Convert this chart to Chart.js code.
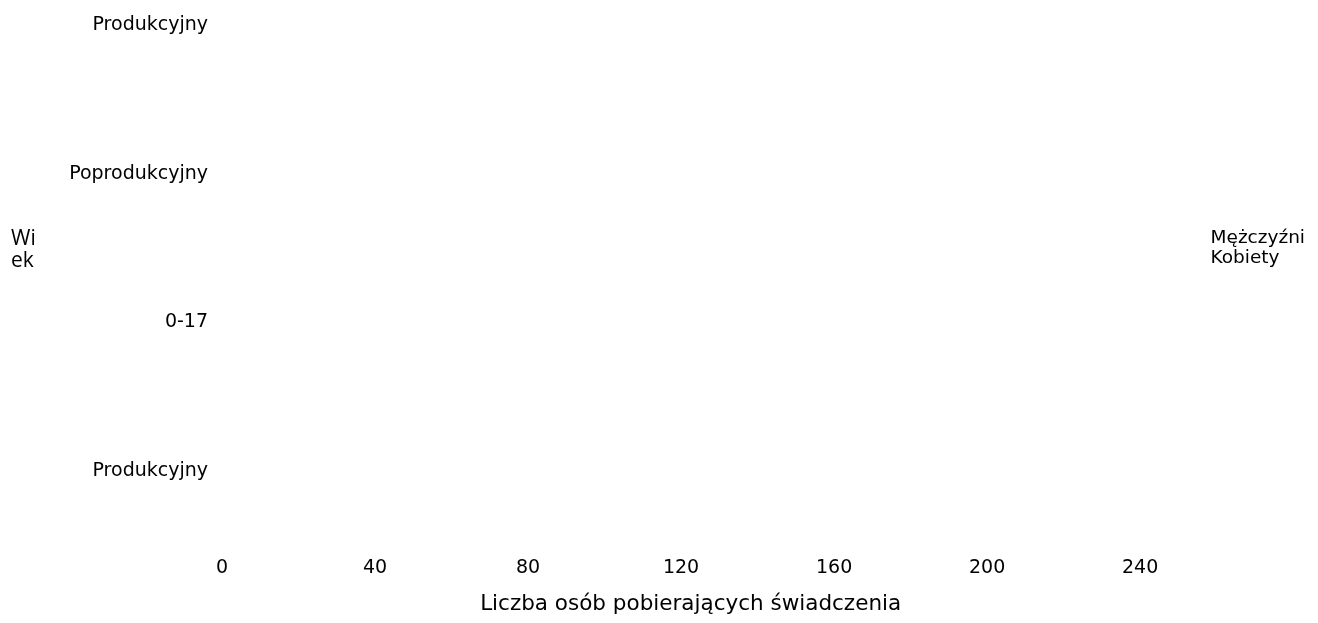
<!DOCTYPE html>
<html lang="pl">
<head>
<meta charset="utf-8">
<script src="https://cdn.jsdelivr.net/npm/chart.js@4.4.1/dist/chart.umd.min.js"></script>
<style>
  html, body { margin: 0; padding: 0; background: #fff; }
  #wrap { width: 1318px; height: 623px; }
</style>
</head>
<body>
<div id="wrap"><canvas id="wykres" width="1318" height="623"></canvas></div>
<script>
// DANE WYKRESU
const kategorieWieku = ["Produkcyjny", "Poprodukcyjny", "0-17", "Produkcyjny"];
const mezczyzni = [0, 0, 0, 0];
const kobiety = [0, 0, 0, 0];
const etykietySerii = ["Mężczyźni", "Kobiety"];
const maxOsiX = 245;
const krokOsiX = 40;
const tytulOsiX = "Liczba osób pobierających świadczenia";
const tytulOsiY = ["Wi", "ek"];

const czarny = "#000";
const fontOsi = { family: "'DejaVu Sans'", size: 19 };

// TYTUL OSI Y (POZIOMY, ZLAMANY W DWIE LINIE)
const pluginTytulY = {
  id: "pluginTytulY",
  afterDraw(chart) {
    const { ctx, chartArea } = chart;
    const srodek = (chartArea.top + chartArea.bottom) / 2 + 2;
    const wysLinii = 22;
    ctx.save();
    ctx.font = "21px 'Open Sans'";
    ctx.fillStyle = czarny;
    ctx.textAlign = "left";
    ctx.textBaseline = "middle";
    tytulOsiY.forEach((linia, i) => {
      ctx.fillText(linia, 11, srodek + (i - (tytulOsiY.length - 1) / 2) * wysLinii);
    });
    ctx.restore();
  }
};

const datasets = [
  {
    label: etykietySerii[0],
    data: mezczyzni,
    backgroundColor: "rgba(0,0,0,0)",
    borderWidth: 0
  },
  {
    label: etykietySerii[1],
    data: kobiety,
    backgroundColor: "rgba(0,0,0,0)",
    borderWidth: 0
  }
];

const config = {
  type: "bar",
  data: { labels: kategorieWieku, datasets },
  options: {
    responsive: false,
    animation: false,
    indexAxis: "y",
    layout: { padding: { top: 22, right: 3, bottom: 4, left: 0 } },
    plugins: {
      tooltip: { enabled: false },
      legend: {
        position: "right",
        fullSize: false,
        labels: {
          font: { family: "'DejaVu Sans'", size: 18.5 },
          color: czarny,
          boxWidth: 40,
          padding: 2
        }
      }
    },
    scales: {
      x: {
        min: 0,
        max: maxOsiX,
        grid: { display: false, drawTicks: false },
        border: { display: false },
        ticks: { stepSize: krokOsiX, includeBounds: false, padding: 86, font: fontOsi, color: czarny },
        afterFit(skala) {
          skala.height = 148;
        },
        title: {
          display: true,
          text: tytulOsiX,
          color: czarny,
          font: { family: "'DejaVu Sans'", size: 21.5 },
          padding: { top: 14, bottom: 2 }
        }
      },
      y: {
        offset: false,
        grid: { display: false, drawTicks: false },
        border: { display: false },
        ticks: { autoSkip: false, padding: 14, font: fontOsi, color: czarny },
        afterFit(skala) {
          skala.width = 222;
        }
      }
    }
  },
  plugins: [pluginTytulY]
};

const wykres = new Chart(document.getElementById("wykres"), config);
</script>
</body>
</html>
